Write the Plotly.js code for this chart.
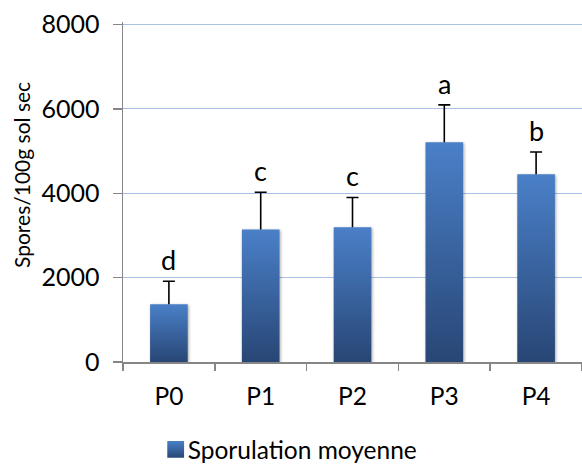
<!DOCTYPE html>
<html>
<head>
<meta charset="utf-8">
<script src="https://cdn.plot.ly/plotly-3.0.1.min.js"></script>
<style>
  html, body { margin: 0; padding: 0; background: #fff; }
  #chart { width: 582px; height: 464px; }
  .barlayer .point path { filter: drop-shadow(1px 1px 1.5px rgba(0,0,0,0.35)); }
</style>
</head>
<body>
<div id="chart"></div>
<script>
const categories = ['P0', 'P1', 'P2', 'P3', 'P4'];
const means = [1370, 3140, 3195, 5210, 4450];
const errPlus = [545, 885, 705, 885, 530];
const letters = ['d', 'c', 'c', 'a', 'b'];
const seriesName = 'Sporulation moyenne';
const yTitle = 'Spores/100g sol sec';
const yTicks = [0, 2000, 4000, 6000, 8000];

const FONT = 'Lato, "Open Sans", sans-serif';

const trace = {
  type: 'bar',
  x: categories,
  y: means,
  name: seriesName,
  width: 0.41,
  marker: { color: '#3A66A6', line: { width: 0 } },
  error_y: {
    type: 'data',
    symmetric: false,
    array: errPlus,
    arrayminus: means.map(() => 0),
    color: '#000000',
    thickness: 1.6,
    width: 6
  },
  showlegend: true,
  hoverinfo: 'skip'
};

const annotations = categories.map((c, i) => ({
  x: c,
  y: means[i] + errPlus[i],
  xref: 'x',
  yref: 'y',
  text: letters[i],
  showarrow: false,
  yanchor: 'bottom',
  yshift: 3,
  font: { family: FONT, size: 27, color: '#000' }
}));

annotations.push({
  xref: 'paper', yref: 'paper',
  x: 0, y: 0.55,
  xshift: -101,
  xanchor: 'center', yanchor: 'middle',
  text: yTitle,
  textangle: -90,
  showarrow: false,
  font: { family: FONT, size: 21, color: '#000' }
});

const layout = {
  width: 582,
  height: 464,
  margin: { l: 123, r: 0, t: 22, b: 102 },
  paper_bgcolor: '#ffffff',
  plot_bgcolor: '#ffffff',
  font: { family: FONT, size: 24, color: '#000' },
  showlegend: true,
  legend: {
    orientation: 'h',
    xref: 'container', yref: 'container',
    x: 0.49, xanchor: 'center',
    y: 0, yanchor: 'bottom',
    font: { family: FONT, size: 24.5, color: '#000' },
    itemwidth: 30
  },
  xaxis: {
    type: 'category',
    range: [-0.5, 4.5],
    showline: true,
    linecolor: '#868686',
    linewidth: 1.5,
    ticks: 'outside',
    tickson: 'boundaries',
    ticklen: 7,
    tickwidth: 1.5,
    tickcolor: '#868686',
    showgrid: false,
    zeroline: false,
    ticklabelstandoff: 12,
    tickfont: { family: FONT, size: 24.5, color: '#000' }
  },
  yaxis: {
    range: [0, 8060],
    tickvals: yTicks,
    ticktext: yTicks.map(String),
    showline: true,
    linecolor: '#868686',
    linewidth: 1.5,
    ticks: 'outside',
    ticklen: 9,
    tickwidth: 1.5,
    tickcolor: '#868686',
    showgrid: true,
    gridcolor: '#A9BFE4',
    gridwidth: 1,
    zeroline: false,
    ticklabelstandoff: 8,
    tickfont: { family: FONT, size: 25, color: '#000' }
  },
  annotations: annotations
};

Plotly.newPlot('chart', [trace], layout, { staticPlot: true, displayModeBar: false }).then(gd => {
  const svg = gd.querySelector('svg.main-svg');
  const ns = 'http://www.w3.org/2000/svg';
  let defs = svg.querySelector('defs');
  if (!defs) { defs = document.createElementNS(ns, 'defs'); svg.insertBefore(defs, svg.firstChild); }
  const grad = document.createElementNS(ns, 'linearGradient');
  grad.setAttribute('id', 'barGrad');
  grad.setAttribute('x1', '0'); grad.setAttribute('y1', '0');
  grad.setAttribute('x2', '0'); grad.setAttribute('y2', '1');
  [['0', '#4A80C8'], ['1', '#284675']].forEach(([o, c]) => {
    const s = document.createElementNS(ns, 'stop');
    s.setAttribute('offset', o); s.setAttribute('stop-color', c);
    grad.appendChild(s);
  });
  defs.appendChild(grad);
  gd.querySelectorAll('.barlayer .point path, .legendpoints path').forEach(p => {
    p.style.fill = 'url(#barGrad)';
  });
  // plus-only error bars: drop the lower cap Plotly adds at the bar top
  gd.querySelectorAll('.errorbar path.yerror').forEach(p => {
    const d = p.getAttribute('d');
    p.setAttribute('d', d.replace(/m-[\d.]+,0h[\d.]+\s*$/, ''));
  });
  // larger legend swatch, closer to its text
  gd.querySelectorAll('.legendpoints path').forEach(p => {
    p.setAttribute('transform', 'translate(28,0) scale(1.4)');
  });
  // nudge legend down to sit where the reference has it
  const leg = gd.querySelector('g.legend');
  if (leg) {
    const t = leg.getAttribute('transform') || '';
    const m = t.match(/translate\(\s*([-\d.]+)[ ,]+([-\d.]+)\s*\)/);
    if (m) leg.setAttribute('transform', 'translate(' + m[1] + ',' + (parseFloat(m[2]) + 8) + ')');
  }
});
</script>
</body>
</html>
